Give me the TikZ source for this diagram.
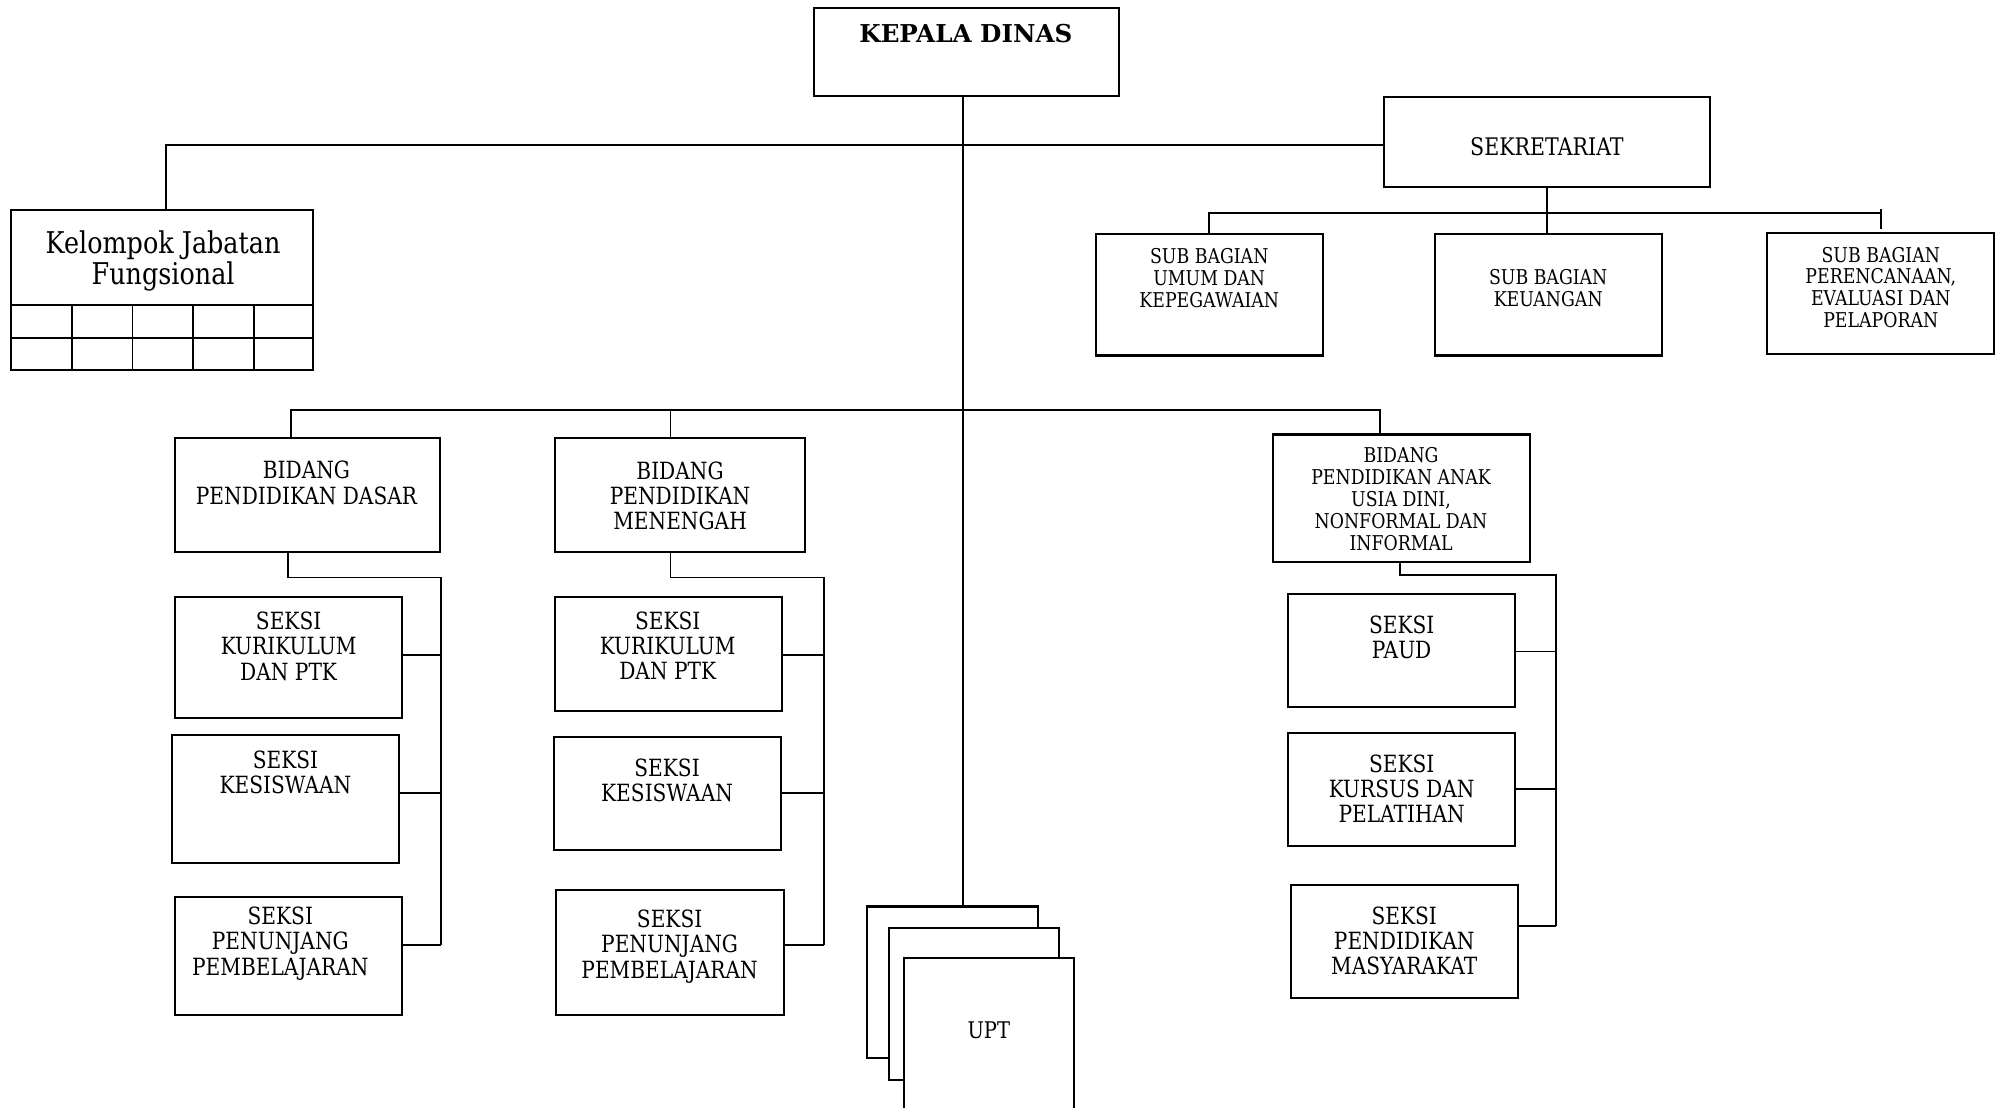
\documentclass[tikz,border=0pt]{standalone}
\usepackage{fontspec}
\setmainfont{DejaVu Serif}[FakeStretch=0.85]
\newfontfamily\kepalafont{DejaVu Serif}
\usetikzlibrary{fit}
\begin{document}
\begin{tikzpicture}[x=1pt,y=-1pt,
  box/.style={draw, line width=1.6pt, fill=white, inner sep=0pt},
  conn/.style={line width=1.5pt},
  grid/.style={line width=1.5pt},
  bigt/.style={font=\fontsize{18.6}{19.8}\selectfont, align=center, inner sep=0pt},
  smallt/.style={font=\fontsize{16}{17.2}\selectfont, align=center, inner sep=0pt}]
\path[use as bounding box] (0,0) rectangle (1568,869);
\clip (0,0) rectangle (1568,869);

% ---------- boxes ----------
\node[box, fit={(639,6) (878,75)}] (kepala) {};
\node[box, fit={(1086,76) (1342,147)}] (sekretariat) {};
\node[box, fit={(9,165) (246,290)}] (kelompok) {};
\node[box, fit={(860,184) (1038,279)}] (subumum) {};
\node[box, fit={(1126,184) (1304,279)}] (subkeu) {};
\node[box, fit={(1387,183) (1565,278)}] (subren) {};
\node[box, fit={(137,344) (345,433)}] (bidDasar) {};
\node[box, fit={(435.5,344) (632,433)}] (bidMen) {};
\node[box, fit={(998.7,341) (1201,441)}] (bidPaud) {};
\node[box, fit={(137.4,468.3) (315.7,563.5)}] (sd1) {};
\node[box, fit={(135.2,577) (313.1,677.3)}] (sd2) {};
\node[box, fit={(137.4,704) (315.7,796.4)}] (sd3) {};
\node[box, fit={(435.5,468.3) (613.5,557.8)}] (sm1) {};
\node[box, fit={(434.8,578.3) (612.8,667.1)}] (sm2) {};
\node[box, fit={(436.6,698.3) (615.2,796.4)}] (sm3) {};
\node[box, fit={(1011,466.3) (1189.3,554.8)}] (sp1) {};
\node[box, fit={(1011,575.4) (1189.3,664)}] (sp2) {};
\node[box, fit={(1013,694.8) (1191.3,783.4)}] (sp3) {};
\node[box, fit={(680.4,711.4) (814.5,830.2)}] (upt1) {};
\node[box, fit={(697.6,728.5) (831,847.2)}] (upt2) {};
\node[box, fit={(709.6,751.5) (843,890)}] (upt3) {};

% grid of Kelompok Jabatan Fungsional
\draw[grid] (9,239.5) -- (246,239.5);
\draw[grid] (9,265) -- (246,265);
\foreach \gx in {56.2,104,151.4,199.3} \draw[grid] (\gx,239.5) -- (\gx,290);

% ---------- texts ----------
\node[font=\kepalafont\bfseries\fontsize{19.3}{20}\selectfont, inner sep=0pt] (tkepala) at (758,26.2) {KEPALA DINAS};
\node[font=\fontsize{19}{20}\selectfont, inner sep=0pt] (tsek) at (1214,115) {SEKRETARIAT};
\node[font=\fontsize{23.5}{24.5}\selectfont, align=center, inner sep=0pt] (tkel) at (128,205) {Kelompok Jabatan\\Fungsional};
\node[smallt] (tsu) at (949,218.4) {SUB BAGIAN\\UMUM DAN\\KEPEGAWAIAN};
\node[smallt] (tsk) at (1215,226.3) {SUB BAGIAN\\KEUANGAN};
\node[smallt] (tsr) at (1476,225.6) {SUB BAGIAN\\PERENCANAAN,\\EVALUASI DAN\\PELAPORAN};
\node[bigt] (tbd) at (240.5,379) {BIDANG\\PENDIDIKAN DASAR};
\node[bigt] (tbm) at (533.7,389) {BIDANG\\PENDIDIKAN\\MENENGAH};
\node[smallt] (tbp) at (1099.5,391.7) {BIDANG\\PENDIDIKAN ANAK\\USIA DINI,\\NONFORMAL DAN\\INFORMAL};
\node[bigt] (tsd1) at (226.5,507.2) {SEKSI\\KURIKULUM\\DAN PTK};
\node[bigt] (tsd2) at (224,606) {SEKSI\\KESISWAAN};
\node[bigt] (tsd3) at (220,740.5) {SEKSI\\PENUNJANG\\PEMBELAJARAN};
\node[bigt] (tsm1) at (524,507) {SEKSI\\KURIKULUM\\DAN PTK};
\node[bigt] (tsm2) at (523.5,612.5) {SEKSI\\KESISWAAN};
\node[bigt] (tsm3) at (525.5,742.8) {SEKSI\\PENUNJANG\\PEMBELAJARAN};
\node[bigt] (tsp1) at (1100,500.2) {SEKSI\\PAUD};
\node[bigt] (tsp2) at (1100,619.2) {SEKSI\\KURSUS DAN\\PELATIHAN};
\node[bigt] (tsp3) at (1102,738.4) {SEKSI\\PENDIDIKAN\\MASYARAKAT};
\node[font=\fontsize{18}{20}\selectfont, inner sep=0pt] (tupt) at (776,808.2) {UPT};

% ---------- connectors ----------
\coordinate (tr) at (756,0);
\draw[conn] (tr |- kepala.south) -- (tr |- upt1.north);

\coordinate (hl) at (130,114);
\draw[conn] (hl -| sekretariat.west) -- (hl) -- (hl |- kelompok.north);

\coordinate (sb) at (0,167);
\draw[conn] (sekretariat.south) -- (sekretariat.south |- subkeu.north);
\draw[conn] (subumum.north) -- (subumum.north |- sb) -- (subren.north |- sb);
\coordinate (rt1) at (1476,164);
\coordinate (rt2) at (1476,180);
\draw[conn] (rt1) -- (rt2);

\coordinate (bL) at (228.4,322);
\coordinate (bM) at (526.2,322);
\coordinate (bR) at (1083.2,322);
\draw[conn] (bL |- bidDasar.north) -- (bL) -- (bR) -- (bR |- bidPaud.north);
\draw[conn] (bM) -- (bM |- bidMen.north);

% Bidang Pendidikan Dasar
\coordinate (dA) at (226.3,453.2);
\coordinate (dB) at (346.1,453.2);
\coordinate (dC) at (346.1,741.7);
\coordinate (d1) at (346.1,514);
\coordinate (d2) at (346.1,622);
\draw[conn] (dA |- bidDasar.south) -- (dA) -- (dB) -- (dC);
\draw[conn] (d1 -| sd1.east) -- (d1);
\draw[conn] (d2 -| sd2.east) -- (d2);
\draw[conn] (dC -| sd3.east) -- (dC);

% Bidang Pendidikan Menengah
\coordinate (mA) at (526.2,453.2);
\coordinate (mB) at (646.8,453.2);
\coordinate (mC) at (646.8,741.7);
\coordinate (m1) at (646.8,514);
\coordinate (m2) at (646.8,622);
\draw[conn] (mA |- bidMen.south) -- (mA) -- (mB) -- (mC);
\draw[conn] (m1 -| sm1.east) -- (m1);
\draw[conn] (m2 -| sm2.east) -- (m2);
\draw[conn] (mC -| sm3.east) -- (mC);

% Bidang PAUD
\coordinate (pA) at (1099,451);
\coordinate (pB) at (1221,451);
\coordinate (pC) at (1221,726.7);
\coordinate (p1) at (1221,511.3);
\coordinate (p2) at (1221,619.4);
\draw[conn] (pA |- bidPaud.south) -- (pA) -- (pB) -- (pC);
\draw[conn] (p1 -| sp1.east) -- (p1);
\draw[conn] (p2 -| sp2.east) -- (p2);
\draw[conn] (pC -| sp3.east) -- (pC);
\end{tikzpicture}
\end{document}
